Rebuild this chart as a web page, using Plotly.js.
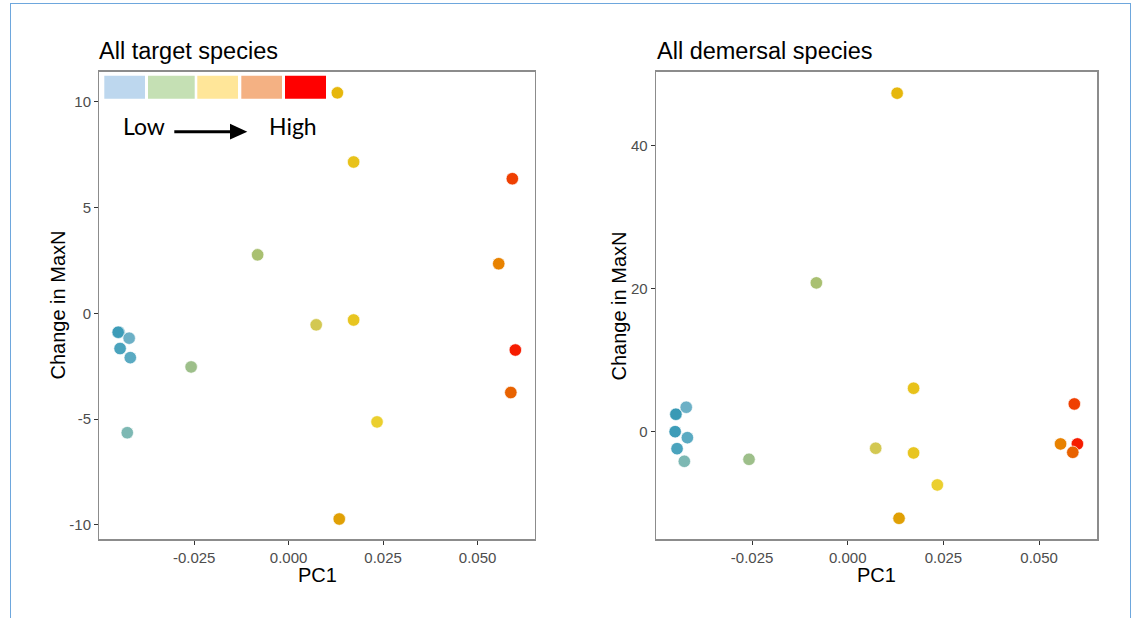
<!DOCTYPE html>
<html>
<head>
<meta charset="utf-8">
<script src="https://cdn.plot.ly/plotly-3.0.1.min.js"></script>
<style>
  html, body { margin: 0; padding: 0; background: #ffffff; }
  #wrap { position: relative; width: 1135px; height: 618px; overflow: hidden; }
  #chart { position: absolute; left: 0; top: 0; width: 1135px; height: 618px; }
  #frame {
    position: absolute; left: 10px; top: 3px; width: 1121px; height: 640px;
    border: 1.5px solid #6ea7dd; box-sizing: border-box; pointer-events: none;
  }
</style>
</head>
<body>
<div id="wrap">
  <div id="chart"></div>
  <div id="frame"></div>
</div>
<script>
// Sites, ordered the same in every array below
const pc1 = [0.0129, 0.0172, 0.0592, 0.0556, -0.0082, 0.0073, 0.0172, 0.0600, 0.0588,
             0.0234, 0.0134, -0.0258, -0.0449, -0.0451, -0.0446, -0.0422, -0.0419, -0.0427];
// Change in MaxN, all target species
const changeTarget = [10.43, 7.16, 6.37, 2.35, 2.77, -0.54, -0.31, -1.73, -3.74,
                      -5.13, -9.72, -2.53, -0.89, -0.89, -1.66, -1.17, -2.09, -5.64];
// Change in MaxN, all demersal species
const changeDemersal = [47.39, 6.08, 3.88, -1.72, 20.83, -2.32, -2.98, -1.72, -2.89,
                        -7.46, -12.13, -3.87, 2.44, 0.0, -2.38, 3.42, -0.84, -4.15];

const panelTitles = ["All target species", "All demersal species"];
const xTickVals = [-0.025, 0.0, 0.025, 0.050];
const xTickText = ["-0.025", "0.000", "0.025", "0.050"];
const leftYTicks = [-10, -5, 0, 5, 10];
const leftYText = ["-10", "-5", "0", "5", "10"];
const rightYTicks = [0, 20, 40];
const rightYText = ["0", "20", "40"];
const scaleLabels = ["Low", "High"];

// marker fill for each site (low -> high)
const siteColour = ["#e6b70c", "#e8c21a", "#ef4002", "#e88200", "#a9c071", "#d3c852",
                    "#e8c520", "#f61c00", "#e86200", "#ebcf2e", "#e0a005", "#9dbf8a",
                    "#3a9ab5", "#3d9cb8", "#4aa3bd", "#6cb0c6", "#5aaac2", "#7db8b3"];
// colour key boxes
const keyColours = ["#bdd7ee", "#c5e0b4", "#ffe699", "#f4b183", "#ff0000"];

const W = 1135, H = 618;
const px = v => v / W;
const py = v => 1 - v / H;

const sans = "Liberation Sans, Arial, sans-serif";
const marker = {
  size: 12.5,
  color: siteColour,
  line: { color: "rgba(255,255,255,0.85)", width: 0.8 }
};

const traces = [
  { type: "scatter", mode: "markers", x: pc1, y: changeTarget, xaxis: "x", yaxis: "y",
    marker: marker, hoverinfo: "x+y", showlegend: false },
  { type: "scatter", mode: "markers", x: pc1, y: changeDemersal, xaxis: "x2", yaxis: "y2",
    marker: marker, hoverinfo: "x+y", showlegend: false }
];

const axisCommon = {
  showgrid: false, zeroline: false,
  showline: true, mirror: true, linecolor: "#8c8c8c", linewidth: 1.3,
  ticks: "outside", ticklen: 4, tickwidth: 1, tickcolor: "#333333",
  tickfont: { family: sans, size: 15, color: "#4d4d4d" },
  fixedrange: true
};

const xRange = [-0.0501, 0.0652];

const layout = {
  width: W, height: H,
  margin: { l: 0, r: 0, t: 0, b: 0 },
  paper_bgcolor: "#ffffff", plot_bgcolor: "#ffffff",
  showlegend: false,
  xaxis: Object.assign({}, axisCommon, {
    domain: [px(99.3), px(535)], range: xRange, anchor: "y",
    tickvals: xTickVals, ticktext: xTickText
  }),
  yaxis: Object.assign({}, axisCommon, {
    domain: [py(539.3), py(71.7)], range: [-10.68, 11.43], anchor: "x",
    tickvals: leftYTicks, ticktext: leftYText
  }),
  xaxis2: Object.assign({}, axisCommon, {
    domain: [px(656), px(1097.3)], range: xRange, anchor: "y2",
    tickvals: xTickVals, ticktext: xTickText
  }),
  yaxis2: Object.assign({}, axisCommon, {
    domain: [py(539.3), py(71.7)], range: [-15.07, 50.4], anchor: "x2",
    tickvals: rightYTicks, ticktext: rightYText
  }),
  shapes: [],
  annotations: []
};

// colour key boxes in the top-left corner of the first panel
const keyX = [[104.3, 145], [148, 194.7], [197.3, 238], [241.3, 282], [285, 326]];
keyColours.forEach((c, i) => {
  layout.shapes.push({
    type: "rect", xref: "paper", yref: "paper",
    x0: px(keyX[i][0]), x1: px(keyX[i][1]), y0: py(98.7), y1: py(75.7),
    fillcolor: c, line: { width: 0 }, layer: "above"
  });
});

// Low -> High arrow
layout.shapes.push({
  type: "line", xref: "paper", yref: "paper",
  x0: px(174.3), x1: px(233), y0: py(131.7), y1: py(131.7),
  line: { color: "#000000", width: 3 }
});
layout.shapes.push({
  type: "path", xref: "paper", yref: "paper",
  path: "M" + px(230) + "," + py(123.8) + " L" + px(247.3) + "," + py(131.7) +
        " L" + px(230) + "," + py(139.6) + " Z",
  fillcolor: "#000000", line: { width: 0 }
});

const keyFont = { family: "Lato, Carlito, Open Sans, sans-serif", size: 23, color: "#000000" };
layout.annotations.push(
  { xref: "paper", yref: "paper", x: px(144), y: py(126), text: scaleLabels[0],
    showarrow: false, xanchor: "center", yanchor: "middle", font: keyFont },
  { xref: "paper", yref: "paper", x: px(293), y: py(126), text: scaleLabels[1],
    showarrow: false, xanchor: "center", yanchor: "middle", font: keyFont }
);

// panel titles
const titleFont = { family: sans, size: 23.5, color: "#000000" };
layout.annotations.push(
  { xref: "paper", yref: "paper", x: px(97), y: py(51), text: panelTitles[0],
    showarrow: false, xanchor: "left", yanchor: "middle", font: titleFont },
  { xref: "paper", yref: "paper", x: px(655), y: py(51), text: panelTitles[1],
    showarrow: false, xanchor: "left", yanchor: "middle", font: titleFont }
);

// axis titles
const axTitleFont = { family: sans, size: 20, color: "#000000" };
layout.annotations.push(
  { xref: "paper", yref: "paper", x: px(317), y: py(575), text: "PC1",
    showarrow: false, xanchor: "center", yanchor: "middle", font: axTitleFont },
  { xref: "paper", yref: "paper", x: px(876.6), y: py(575), text: "PC1",
    showarrow: false, xanchor: "center", yanchor: "middle", font: axTitleFont },
  { xref: "paper", yref: "paper", x: px(57), y: py(305.5), text: "Change in MaxN",
    textangle: -90, showarrow: false, xanchor: "center", yanchor: "middle", font: axTitleFont },
  { xref: "paper", yref: "paper", x: px(618), y: py(305.5), text: "Change in MaxN",
    textangle: -90, showarrow: false, xanchor: "center", yanchor: "middle", font: axTitleFont }
);

Plotly.newPlot("chart", traces, layout, { displayModeBar: false, staticPlot: true });
</script>
</body>
</html>
